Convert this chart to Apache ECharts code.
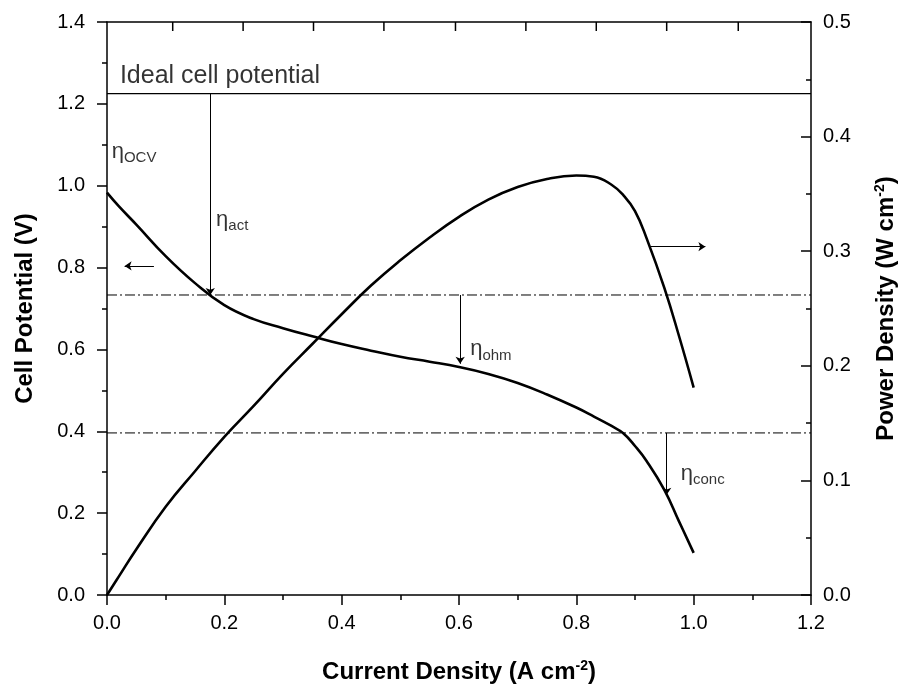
<!DOCTYPE html>
<html>
<head>
<meta charset="utf-8">
<script src="https://cdn.jsdelivr.net/npm/echarts@6/dist/echarts.min.js"></script>
<style>
  html, body { margin: 0; padding: 0; background: #ffffff; }
  #chart { width: 906px; height: 689px; }
</style>
</head>
<body>
<div id="chart"></div>
<script>
// Current density samples (A cm^-2)
const currentDensity = [0, 0.02, 0.05, 0.1, 0.15, 0.2, 0.25, 0.3, 0.35, 0.4, 0.45, 0.5, 0.55,
  0.6, 0.65, 0.7, 0.75, 0.8, 0.83, 0.86, 0.88, 0.9, 0.92, 0.95, 0.975, 1.0];
// Polarization curve (V)
const cellPotential = [0.983, 0.95, 0.905, 0.828, 0.762, 0.708, 0.674, 0.652, 0.632, 0.613, 0.597, 0.582, 0.57,
  0.557, 0.54, 0.518, 0.49, 0.458, 0.436, 0.413, 0.395, 0.364, 0.327, 0.257, 0.18, 0.103];
// Power density curve (W cm^-2)
const powerDensity = [0, 0.016, 0.04, 0.077, 0.108, 0.138, 0.165, 0.193, 0.219, 0.245, 0.27, 0.292, 0.312,
  0.33, 0.345, 0.356, 0.363, 0.366, 0.365, 0.358, 0.349, 0.335, 0.311, 0.268, 0.226, 0.181];

// Horizontal reference levels: ideal potential, and the dash-dot loss boundaries (V)
const idealPotential = 1.225;
const lossBoundaries = [0.733, 0.396];

// Overpotential arrows: [current density, from V, to V]
const lossArrows = [
  [0.176, 1.225, 0.733],
  [0.602, 0.733, 0.565],
  [0.954, 0.396, 0.245]
];
// Axis-indicator arrows: [x from, x to, V]
const axisArrows = [
  [0.08, 0.03, 0.804],
  [0.927, 1.02, 0.851]
];

// Text annotations: [x, V, text]
const idealLabel = [0.022, 1.269, 'Ideal cell potential'];
const etaLabels = [
  [0.008, 1.083, 'OCV'],
  [0.186, 0.917, 'act'],
  [0.619, 0.600, 'ohm'],
  [0.978, 0.296, 'conc']
];

// Tick positions along the top frame edge, and the V range they hang over
const topTicks = [0.112, 0.232, 0.352, 0.472, 0.594, 0.714, 0.834, 0.954, 1.076];
const topTickSpan = [1.4, 1.378];

const FONT = '"Liberation Sans", Arial, Helvetica, sans-serif';
const INK = '#000000';

const chart = echarts.init(document.getElementById('chart'), null, { renderer: 'canvas' });

const hLine = (y) => [[0, y], [1.2, y]];

const arrowSeriesData = lossArrows.map(a => [{ coord: [a[0], a[1]] }, { coord: [a[0], a[2]] }])
  .concat(axisArrows.map(a => [{ coord: [a[0], a[2]] }, { coord: [a[1], a[2]] }]));

const supRich = {
  sup: { fontFamily: FONT, fontSize: 14, fontWeight: 'bold', color: INK, verticalAlign: 'top', lineHeight: 26 },
  b: { fontFamily: FONT, fontSize: 24, fontWeight: 'bold', color: INK, lineHeight: 26 }
};

const option = {
  animation: false,
  backgroundColor: '#ffffff',
  grid: { left: 107, right: 90, top: 22, bottom: 94, containLabel: false },
  xAxis: [
    {
      type: 'value', min: 0, max: 1.2, interval: 0.2, position: 'bottom',
      name: 'Current Density (A cm{sup|-2}{b|)}',
      nameLocation: 'middle', nameGap: 64,
      nameTextStyle: { fontFamily: FONT, fontSize: 24, fontWeight: 'bold', color: INK, rich: supRich },
      axisLine: { show: true, onZero: false, lineStyle: { color: INK, width: 1.5 } },
      axisTick: { show: true, inside: false, length: 10, lineStyle: { color: INK, width: 1.5 } },
      minorTick: { show: true, splitNumber: 2, length: 5, lineStyle: { color: INK, width: 1.5 } },
      axisLabel: { margin: 18, fontFamily: FONT, fontSize: 20, color: INK, formatter: v => v.toFixed(1) },
      splitLine: { show: false }
    },
    {
      type: 'value', min: 0, max: 1.2, position: 'top',
      axisLine: { show: true, onZero: false, lineStyle: { color: INK, width: 1.5 } },
      axisTick: { show: false },
      axisLabel: { show: false },
      splitLine: { show: false }
    }
  ],
  yAxis: [
    {
      type: 'value', min: 0, max: 1.4, interval: 0.2, position: 'left',
      name: 'Cell Potential (V)', nameLocation: 'middle', nameGap: 70, nameRotate: 90,
      nameTextStyle: { fontFamily: FONT, fontSize: 24, fontWeight: 'bold', color: INK },
      axisLine: { show: true, onZero: false, lineStyle: { color: INK, width: 1.5 } },
      axisTick: { show: true, inside: false, length: 10, lineStyle: { color: INK, width: 1.5 } },
      minorTick: { show: true, splitNumber: 2, length: 5, lineStyle: { color: INK, width: 1.5 } },
      axisLabel: { margin: 22, fontFamily: FONT, fontSize: 20, color: INK, formatter: v => v.toFixed(1) },
      splitLine: { show: false }
    },
    {
      type: 'value', min: 0, max: 0.5, interval: 0.1, position: 'right',
      name: 'Power Density (W cm{sup|-2}{b|)}', nameLocation: 'middle', nameGap: 62, nameRotate: 90,
      nameTextStyle: { fontFamily: FONT, fontSize: 24, fontWeight: 'bold', color: INK, rich: supRich },
      axisLine: { show: true, onZero: false, lineStyle: { color: INK, width: 1.5 } },
      axisTick: { show: true, inside: true, length: 10, lineStyle: { color: INK, width: 1.5 } },
      minorTick: { show: true, splitNumber: 2, length: 5, lineStyle: { color: INK, width: 1.5 } },
      axisLabel: { margin: 12, fontFamily: FONT, fontSize: 20, color: INK, formatter: v => v.toFixed(1) },
      splitLine: { show: false }
    }
  ],
  series: [
    {
      name: 'Ideal cell potential', type: 'line', xAxisIndex: 0, yAxisIndex: 0,
      data: hLine(idealPotential), symbol: 'none', silent: true,
      lineStyle: { color: INK, width: 1.3 }
    },
    ...lossBoundaries.map(v => ({
      type: 'line', xAxisIndex: 0, yAxisIndex: 0, data: hLine(v), symbol: 'none', silent: true,
      lineStyle: { color: INK, width: 1, type: [10, 3, 2, 3] }
    })),
    {
      name: 'Cell potential', type: 'line', xAxisIndex: 0, yAxisIndex: 0,
      data: currentDensity.map((x, i) => [x, cellPotential[i]]),
      symbol: 'none', smooth: 0.45,
      lineStyle: { color: INK, width: 2.6 }
    },
    {
      name: 'Power density', type: 'line', xAxisIndex: 0, yAxisIndex: 1,
      data: currentDensity.map((x, i) => [x, powerDensity[i]]),
      symbol: 'none', smooth: 0.45,
      lineStyle: { color: INK, width: 2.6 }
    },
    {
      name: 'arrows', type: 'line', xAxisIndex: 0, yAxisIndex: 0, data: [], silent: true,
      markLine: {
        silent: true, animation: false,
        symbol: ['none', 'arrow'], symbolSize: 7,
        label: { show: false },
        lineStyle: { color: INK, width: 1, type: 'solid' },
        emphasis: { disabled: true },
        data: arrowSeriesData
      }
    },
    {
      name: 'ideal text', type: 'scatter', xAxisIndex: 0, yAxisIndex: 0, silent: true,
      symbolSize: 0,
      data: [[idealLabel[0], idealLabel[1]]],
      label: {
        show: true, position: 'right', distance: 0,
        formatter: idealLabel[2],
        fontFamily: FONT, fontSize: 25, color: INK
      }
    },
    {
      name: 'eta text', type: 'scatter', xAxisIndex: 0, yAxisIndex: 0, silent: true,
      symbolSize: 0,
      data: etaLabels.map(e => ({ value: [e[0], e[1]], sub: e[2] })),
      label: {
        show: true, position: 'right', distance: 0,
        formatter: p => 'η{s|' + p.data.sub + '}',
        fontFamily: FONT, fontSize: 22, color: INK, lineHeight: 28,
        rich: {
          s: { fontFamily: FONT, fontSize: 15, color: INK, verticalAlign: 'bottom', lineHeight: 16 }
        }
      }
    }
  ]
};

chart.setOption(option);

// Short inward ticks on the top frame edge, placed through the chart's own scales
const topTickShapes = topTicks.map(x => {
  const p0 = chart.convertToPixel({ xAxisIndex: 0, yAxisIndex: 0 }, [x, topTickSpan[0]]);
  const p1 = chart.convertToPixel({ xAxisIndex: 0, yAxisIndex: 0 }, [x, topTickSpan[1]]);
  return {
    type: 'line', silent: true, z: 10,
    shape: { x1: p0[0], y1: p0[1], x2: p1[0], y2: p1[1] },
    style: { stroke: INK, lineWidth: 1.5 }
  };
});
chart.setOption({ graphic: topTickShapes });
</script>
</body>
</html>
